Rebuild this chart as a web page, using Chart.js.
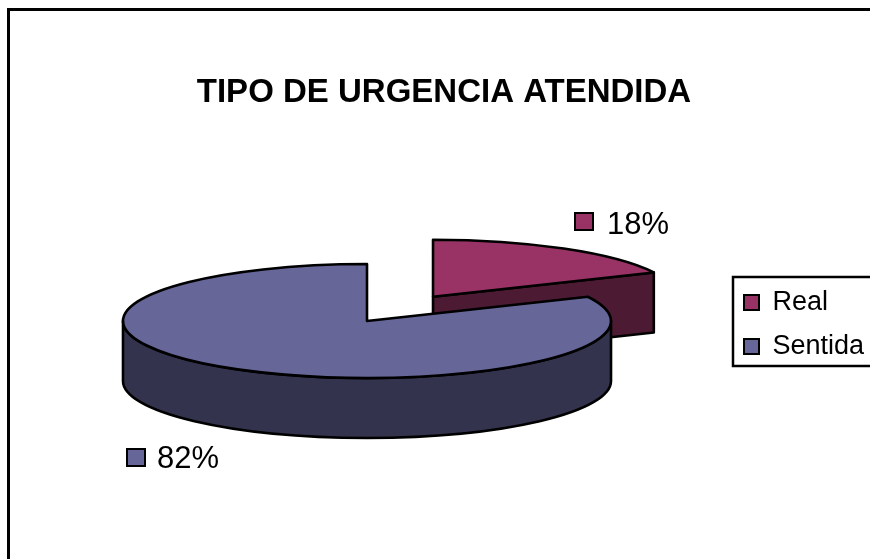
<!DOCTYPE html>
<html>
<head>
<meta charset="utf-8">
<style>html,body{margin:0;padding:0;background:#fff;overflow:hidden}canvas{display:block}</style>
<script src="https://cdn.jsdelivr.net/npm/chart.js@4"></script>
</head>
<body>
<div style="width:870px;height:559px"><canvas id="c" width="870" height="559"></canvas></div>
<script>
const categories = ["Real", "Sentida"];
const values = [18, 82];
const topColors = ["#993366", "#666699"];
const sideColors = ["#4D1A33", "#33334D"];
const chartTitle = "TIPO DE URGENCIA ATENDIDA";

const FONT = '"Liberation Sans", Arial, sans-serif';
const geom = {cx: 367, cy: 321, rx: 244, ry: 57, depth: 60};
const explode = [0.505, 0];
const labelBoxes = [{x: 575, y: 213, tx: 607, ty: 225}, {x: 127, y: 449, tx: 157, ty: 459}];
const legendFrame = {left: 733, top: 277, bottom: 366};

const pie3d = {
  id: 'pie3d',
  beforeDraw(chart) {
    const c = chart.ctx;
    c.save();
    c.strokeStyle = '#000';
    c.lineWidth = 3;
    c.beginPath();
    c.moveTo(8.5, 559); c.lineTo(8.5, 9.5); c.lineTo(870, 9.5);
    c.stroke();
    const l = legendFrame;
    c.lineWidth = 2.5;
    c.beginPath();
    c.moveTo(870, l.top); c.lineTo(l.left, l.top); c.lineTo(l.left, l.bottom); c.lineTo(870, l.bottom);
    c.stroke();
    c.restore();
  },
  afterLayout(chart) {
    const l = chart.legend;
    l.left = 727; l.right = 870; l.top = 272; l.bottom = 420;
  },
  beforeDatasetDraw(chart, args) {
    const c = chart.ctx;
    const els = args.meta.data;
    els.forEach((el, i) => {
      const mid = (el.startAngle + el.endAngle) / 2;
      const ox = geom.cx + explode[i] * geom.rx * Math.cos(mid);
      const oy = geom.cy + explode[i] * geom.ry * Math.sin(mid);
      const a0 = el.startAngle, a1 = el.endAngle;
      const px = a => ox + geom.rx * Math.cos(a);
      const py = a => oy + geom.ry * Math.sin(a);
      c.save();
      c.lineJoin = 'round';
      c.lineWidth = 2.6;
      c.strokeStyle = '#000';
      c.fillStyle = sideColors[i];
      // flat cut faces that look toward the viewer
      [[a0, Math.cos(a0) < -1e-6], [a1, Math.cos(a1) > 1e-6]].forEach(([a, visible]) => {
        if (!visible) return;
        c.beginPath();
        c.moveTo(ox, oy);
        c.lineTo(px(a), py(a));
        c.lineTo(px(a), py(a) + geom.depth);
        c.lineTo(ox, oy + geom.depth);
        c.closePath();
        c.fill(); c.stroke();
      });
      // outer wall: the part of the rim on the front half
      const lo = Math.max(a0, 0);
      const hi = Math.min(a1, Math.PI);
      if (hi > lo) {
        c.beginPath();
        c.ellipse(ox, oy, geom.rx, geom.ry, 0, lo, hi);
        c.lineTo(px(hi), py(hi) + geom.depth);
        c.ellipse(ox, oy + geom.depth, geom.rx, geom.ry, 0, hi, lo, true);
        c.closePath();
        c.fill(); c.stroke();
      }
      // top face, drawn by the arc element itself through a squashing transform
      c.save();
      c.translate(ox, oy);
      c.scale(geom.rx / el.outerRadius, geom.ry / el.outerRadius);
      c.translate(-el.x, -el.y);
      el.draw(c, chart.chartArea);
      c.restore();
      c.beginPath();
      c.moveTo(ox, oy);
      c.ellipse(ox, oy, geom.rx, geom.ry, 0, a0, a1);
      c.closePath();
      c.stroke();
      c.restore();
    });
    return false;
  },
  afterDatasetsDraw(chart) {
    const c = chart.ctx;
    const total = values.reduce((a, b) => a + b, 0);
    c.save();
    values.forEach((v, i) => {
      const b = labelBoxes[i];
      c.fillStyle = topColors[i];
      c.strokeStyle = '#000';
      c.lineWidth = 2;
      c.fillRect(b.x, b.y, 18, 17);
      c.strokeRect(b.x, b.y, 18, 17);
      c.fillStyle = '#000';
      c.font = '31px ' + FONT;
      c.textBaseline = 'middle';
      c.textAlign = 'left';
      c.fillText(Math.round(v / total * 100) + '%', b.tx, b.ty);
    });
    c.restore();
  }
};

new Chart(document.getElementById('c'), {
  type: 'pie',
  data: {
    labels: categories,
    datasets: [{data: values, backgroundColor: topColors, borderWidth: 0}]
  },
  options: {
    responsive: false,
    animation: false,
    rotation: 0,
    layout: {padding: {left: 18}},
    plugins: {
      tooltip: {enabled: false},
      title: {
        display: true,
        text: chartTitle,
        color: '#000',
        font: {family: FONT, size: 33, weight: 'bold'},
        padding: {top: 73, bottom: 10}
      },
      legend: {
        position: 'right',
        align: 'start',
        labels: {
          color: '#000',
          boxWidth: 15,
          boxHeight: 15,
          padding: 17,
          font: {family: FONT, size: 27},
          generateLabels(chart) {
            return categories.map((name, i) => ({
              text: name,
              fillStyle: topColors[i],
              strokeStyle: '#000',
              lineWidth: 2,
              hidden: false,
              index: i
            }));
          }
        }
      }
    }
  },
  plugins: [pie3d]
});
</script>
</body>
</html>
